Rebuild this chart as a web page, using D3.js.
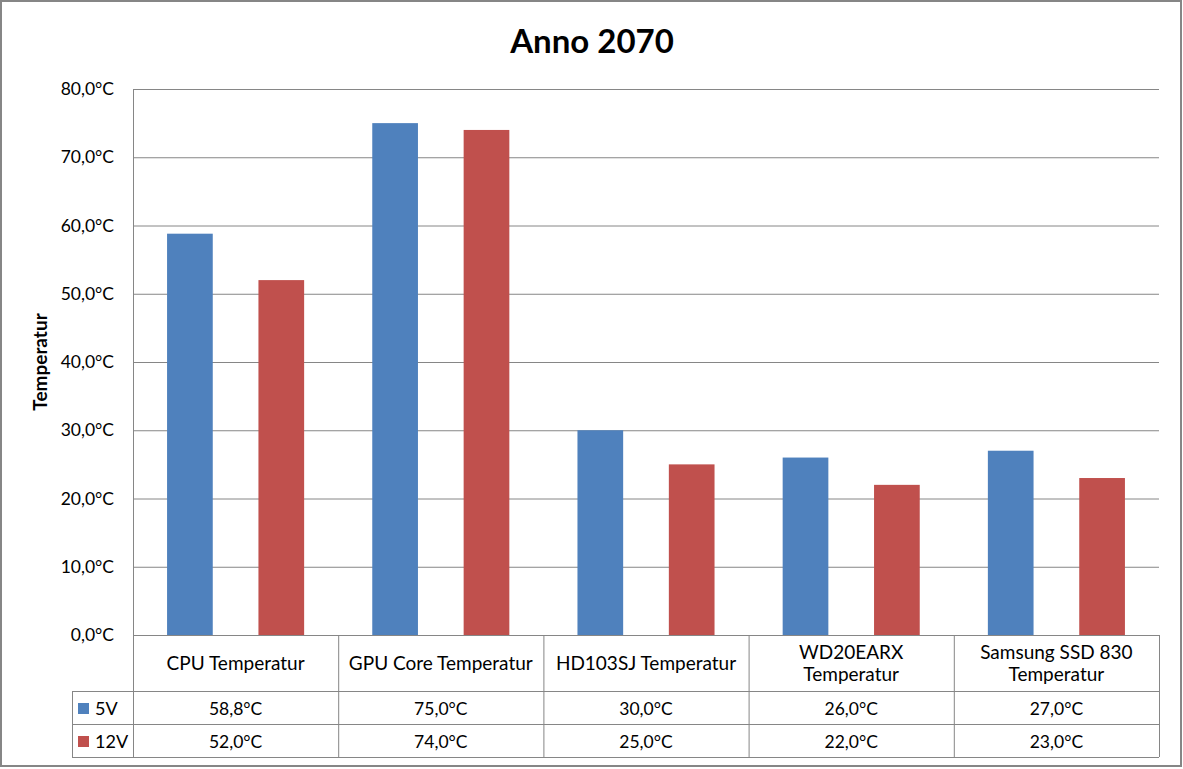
<!DOCTYPE html>
<html>
<head>
<meta charset="utf-8">
<script src="https://cdn.jsdelivr.net/npm/d3@7"></script>
<style>
  body { margin: 0; background: #fff; }
  svg { display: block; font-family: Lato, "Open Sans", sans-serif; }
</style>
</head>
<body>
<svg id="chart" width="1183" height="769"></svg>
<script>
// Daten
let categories = [["CPU Temperatur"], ["GPU Core Temperatur"], ["HD103SJ Temperatur"],
                  ["WD20EARX", "Temperatur"], ["Samsung SSD 830", "Temperatur"]];
let seriesNames = ["5V", "12V"];
let values5V = [58.8, 75.0, 30.0, 26.0, 27.0];
let values12V = [52.0, 74.0, 25.0, 22.0, 23.0];
let yTicks = [0, 10, 20, 30, 40, 50, 60, 70, 80];
let colors = ["#4F81BD", "#C0504D"];

let series = [values5V, values12V];
let fmt = function(v) { return v.toFixed(1).replace(".", ",") + "°C"; };

let svg = d3.select("#chart");
let plotL = 133, plotR = 1159, plotT = 89, plotB = 635;
let rowH = 33, headerBottom = 691, legendLeft = 72;
let grid = "#868686";

// Rahmen
svg.append("rect").attr("x", 1).attr("y", 1).attr("width", 1180).attr("height", 765)
    .attr("fill", "#fff").attr("stroke", "#868686").attr("stroke-width", 2);

svg.append("text").attr("x", 592).attr("y", 53).attr("text-anchor", "middle")
    .attr("font-size", 33).attr("font-weight", "bold").text("Anno 2070");

let x = d3.scaleBand().domain(d3.range(categories.length)).range([plotL, plotR]);
let bw = x.bandwidth();
// gap width 150 %, Balken nebeneinander mit einer Balkenbreite Abstand
let xs = d3.scaleBand().domain(d3.range(series.length)).range([bw * 0.166, bw * 0.834])
    .paddingInner(0.5);
let y = d3.scaleLinear().domain([0, 80]).range([plotB, plotT]);

// Gitter
svg.append("g").selectAll("line").data(yTicks).enter().append("line")
    .attr("x1", plotL).attr("x2", plotR)
    .attr("y1", function(d) { return y(d) + 0.5 }).attr("y2", function(d) { return y(d) + 0.5 })
    .attr("stroke", grid).attr("stroke-width", 1);

svg.append("g").selectAll("text").data(yTicks).enter().append("text")
    .attr("x", 114).attr("y", function(d) { return y(d) + 6 })
    .attr("text-anchor", "end").attr("font-size", 17.5).text(fmt);

svg.append("text").attr("transform", "translate(47," + ((plotT + plotB) / 2) + ") rotate(-90)")
    .attr("text-anchor", "middle").attr("font-size", 19).attr("font-weight", "bold").text("Temperatur");

// Balken
series.forEach(function(vals, s) {
    svg.append("g").selectAll("rect").data(vals).enter().append("rect")
        .attr("x", function(d, i) { return x(i) + xs(s) })
        .attr("width", xs.bandwidth())
        .attr("y", function(d) { return y(d) })
        .attr("height", function(d) { return plotB - y(d) })
        .attr("fill", colors[s]);
});

// Datentabelle
let tableBottom = headerBottom + rowH * series.length;
let t = svg.append("g").attr("stroke", grid).attr("stroke-width", 1);
x.domain().concat([categories.length]).forEach(function(i) {
    let xx = (i < categories.length ? x(i) : plotR) + 0.5;
    t.append("line").attr("x1", xx).attr("x2", xx)
        .attr("y1", i === 0 ? plotT : plotB).attr("y2", tableBottom);
});
t.append("line").attr("x1", legendLeft + 0.5).attr("x2", legendLeft + 0.5)
    .attr("y1", headerBottom).attr("y2", tableBottom);
[headerBottom, headerBottom + rowH, tableBottom].forEach(function(yy) {
    t.append("line").attr("x1", legendLeft).attr("x2", plotR)
        .attr("y1", yy + 0.5).attr("y2", yy + 0.5);
});

categories.forEach(function(lines, i) {
    let cx = x(i) + bw / 2;
    let y0 = lines.length === 1 ? 670 : 659;
    lines.forEach(function(l, k) {
        svg.append("text").attr("x", cx).attr("y", y0 + k * 22).attr("text-anchor", "middle")
            .attr("font-size", 19).text(l);
    });
});

series.forEach(function(vals, s) {
    let ry = headerBottom + s * rowH;
    svg.append("rect").attr("x", 78).attr("y", ry + 12).attr("width", 11).attr("height", 11)
        .attr("fill", colors[s]);
    svg.append("text").attr("x", 95).attr("y", ry + 24).attr("font-size", 18).text(seriesNames[s]);
    vals.forEach(function(v, i) {
        svg.append("text").attr("x", x(i) + bw / 2).attr("y", ry + 24)
            .attr("text-anchor", "middle").attr("font-size", 17.5).text(fmt(v));
    });
});
</script>
</body>
</html>
